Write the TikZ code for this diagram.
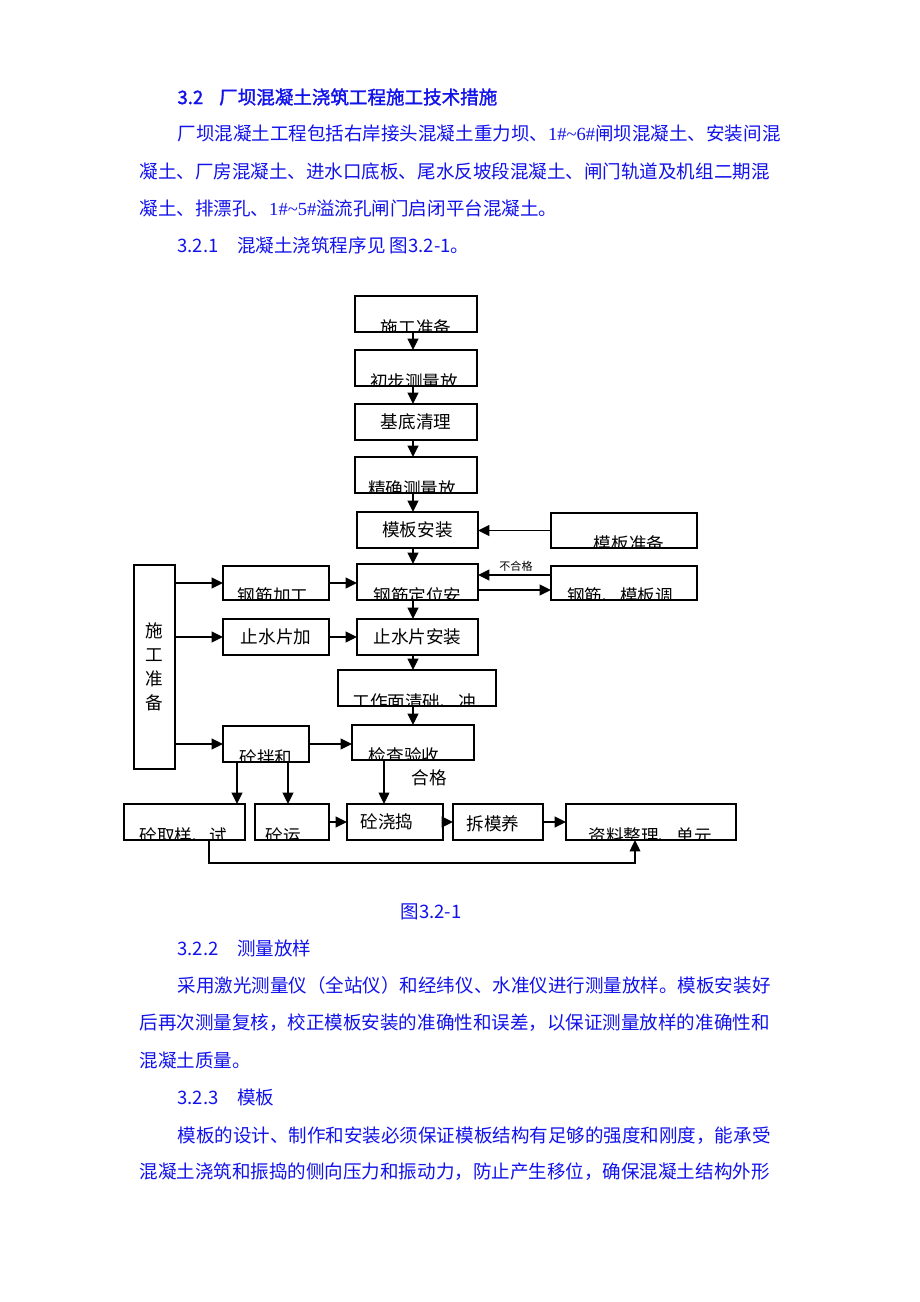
\documentclass[tikz,border=0pt]{standalone}
\usepackage{fontspec}
\setmainfont{Noto Sans CJK SC}
\newfontfamily\latinserif{Liberation Serif}
\newfontfamily\headfont[FakeBold=1.6]{Noto Sans CJK SC}
\usetikzlibrary{arrows.meta,fit,calc}

\definecolor{textblue}{RGB}{18,18,235}

\tikzset{every picture/.style={line width=0.75pt}}
\tikzset{
  box/.style={draw, inner sep=0pt, outer sep=0pt, line width=1pt},
  arr/.style={-{Triangle[length=8.5pt,width=8pt]}, line width=1.4pt},
  thinarr/.style={-{Triangle[length=8.5pt,width=8pt]}, line width=1pt},
  body/.style={anchor=west, inner sep=0pt, text=textblue, font=\fontsize{13.9pt}{16pt}\selectfont},
  boxtext/.style={inner sep=0pt, font=\fontsize{13.2pt}{18pt}\selectfont},
  note/.style={inner sep=0pt, font=\fontsize{8.3pt}{10pt}\selectfont},
}

% label cut off by the bottom edge of its box
\newcommand{\cuttext}[3][0]{%
  \begin{scope}
    \clip (#2.south west) rectangle (#2.north east);
    \node[boxtext, anchor=base] (#2-t) at ($(#2.south)+(#1,2.5)$) {#3};
  \end{scope}}

\begin{document}
\begin{tikzpicture}[x=0.75pt,y=0.75pt,yscale=-1,xscale=1]
	\path[use as bounding box, fill=white] (0,0) rectangle (920,1302);

	% Text Node
	\node[body, text=textblue] (h1) at (177,97) {\headfont 3.2\hspace{12pt}厂坝混凝土浇筑工程施工技术措施};
	% Text Node
	\node[body] (p1a) at (177,133) {厂坝混凝土工程包括右岸接头混凝土重力坝、{\latinserif 1\#\textasciitilde 6\#}闸坝混凝土、安装间混};
	% Text Node
	\node[body] (p1b) at (139,171) {凝土、厂房混凝土、进水口底板、尾水反坡段混凝土、闸门轨道及机组二期混};
	% Text Node
	\node[body] (p1c) at (139,208) {凝土、排漂孔、{\latinserif 1\#\textasciitilde 5\#}溢流孔闸门启闭平台混凝土。};
	% Text Node
	\node[body] (h2) at (177,245) {3.2.1\hspace{14pt}混凝土浇筑程序见 图3.2-1。};

	%Shape: Rectangle
	\node[box, fit={(355,296) (477,332)}] (prep) {};
	\node[box, fit={(355,350) (477,386)}] (lay1) {};
	\node[box, fit={(355,404) (477,440)}] (base) {};
	\node[box, fit={(355,457) (477,493)}] (lay2) {};
	\node[box, fit={(357,512) (478,548)}] (form) {};
	\node[box, fit={(551,513) (697,548)}] (formprep) {};
	\node[box, fit={(223,566) (329,600)}] (steel) {};
	\node[box, fit={(357,564) (478,600)}] (rebar) {};
	\node[box, fit={(551,566) (697,600)}] (adjust) {};
	\node[box, fit={(134,565) (175,769)}] (prepside) {};
	\node[box, fit={(223,619) (329,655)}] (stopcut) {};
	\node[box, fit={(357,619) (478,655)}] (stopset) {};
	\node[box, fit={(338,670) (496,706)}] (clean) {};
	\node[box, fit={(223,726) (309,762)}] (mix) {};
	\node[box, fit={(352,725) (474,760)}] (check) {};
	\node[box, fit={(124,804) (245,840)}] (sample) {};
	\node[box, fit={(255,804) (329,840)}] (haul) {};
	\node[box, fit={(347,804) (443,840)}] (pour) {};
	\node[box, fit={(453,804) (543,840)}] (cure) {};
	\node[box, fit={(566,804) (736,840)}] (data) {};

	% Text Node
	\cuttext{prep}{施工准备}
	\cuttext[-2]{lay1}{初步测量放}
	\node[boxtext] (base-t) at (base) {基底清理};
	\cuttext[-4]{lay2}{精确测量放}
	\node[boxtext] (form-t) at (form) {模板安装};
	\cuttext[5]{formprep}{模板准备}
	\cuttext[-3]{steel}{钢筋加工}
	\cuttext{rebar}{钢筋定位安}
	\cuttext[-4]{adjust}{钢筋、模板调}
	\node[boxtext, align=center] (prepside-t) at (prepside) {施\\工\\准\\备};
	\node[boxtext] (stopcut-t) at (stopcut) {止水片加};
	\node[boxtext] (stopset-t) at (stopset) {止水片安装};
	\cuttext[-3]{clean}{工作面清础、冲};
	\cuttext{mix}{砼拌和}
	\cuttext[-9]{check}{检查验收}
	\cuttext[-1]{sample}{砼取样、试}
	\cuttext[-9]{haul}{砼运}
	\node[boxtext] (pour-t) at ($(pour)+(-8,0)$) {砼浇捣};
	\node[boxtext] (cure-t) at ($(cure)+(-5,2)$) {拆模养};
	\cuttext[-1]{data}{资料整理、单元}
	\node[note] (fail) at (516,566) {不合格};
	\node[boxtext] (pass) at (429,778) {合格};

	%Straight Lines
	\draw[arr] (prep.south -| check) -- (lay1.north -| check);
	\draw[arr] (lay1.south -| check) -- (base.north -| check);
	\draw[arr] (base.south -| check) -- (lay2.north -| check);
	\draw[arr] (lay2.south -| check) -- (form.north -| check);
	\draw[arr] (form.south -| check) -- (rebar.north -| check);
	\draw[arr] (rebar.south -| check) -- (stopset.north -| check);
	\draw[arr] (stopset.south -| check) -- (clean.north -| check);
	\draw[arr] (clean.south -| check) -- (check.north);
	\draw[arr] (formprep.west) -- (formprep.west -| form.east);
	\draw[arr] ([yshift=6pt]rebar.east) -- ([yshift=6pt]rebar.east -| adjust.west);
	\draw[arr] ([yshift=-6pt]adjust.west) -- ([yshift=-6pt]adjust.west -| rebar.east);
	\draw[arr] (prepside.east |- steel) -- (steel.west);
	\draw[arr] (steel.east) -- (steel.east -| rebar.west);
	\draw[arr] (prepside.east |- stopcut) -- (stopcut.west);
	\draw[arr] (stopcut.east) -- (stopcut.east -| stopset.west);
	\draw[arr] (prepside.east |- mix) -- (mix.west);
	\draw[arr] (mix.east) -- (mix.east -| check.west);
	\coordinate (m1) at ($(mix.south west)+(14,0)$);
	\coordinate (m2) at ($(mix.south west)+(65,0)$);
	\draw[arr] (m1) -- (m1 |- sample.north);
	\draw[arr] (m2) -- (m2 |- haul.north);
	\coordinate (c1) at ($(check.south west)+(32,0)$);
	\draw[thinarr] (c1) -- (c1 |- pour.north);
	\draw[arr] (haul.east) -- (pour.west);
	\draw[arr] (pour.east) -- (cure.west);
	\draw[arr] (cure.east) -- (data.west);
	\coordinate (s1) at ($(sample.south west)+(85,0)$);
	\coordinate (s2) at ($(data.south west)+(69,0)$);
	\draw[thinarr] (s1) -- ++(0,23) -| (s2);

	% Text Node
	\node[body, anchor=center] (cap) at (431,912) {图3.2-1};
	% Text Node
	\node[body] (h3) at (177,948) {3.2.2\hspace{14pt}测量放样};
	% Text Node
	\node[body] (p2a) at (177,985) {采用激光测量仪（全站仪）和经纬仪、水准仪进行测量放样。模板安装好};
	% Text Node
	\node[body] (p2b) at (139,1023) {后再次测量复核，校正模板安装的准确性和误差，以保证测量放样的准确性和};
	% Text Node
	\node[body] (p2c) at (139,1060) {混凝土质量。};
	% Text Node
	\node[body] (h4) at (177,1097) {3.2.3\hspace{14pt}模板};
	% Text Node
	\node[body] (p3a) at (177,1136) {模板的设计、制作和安装必须保证模板结构有足够的强度和刚度，能承受};
	% Text Node
	\node[body] (p3b) at (139,1172) {混凝土浇筑和振捣的侧向压力和振动力，防止产生移位，确保混凝土结构外形};

\end{tikzpicture}
\end{document}
